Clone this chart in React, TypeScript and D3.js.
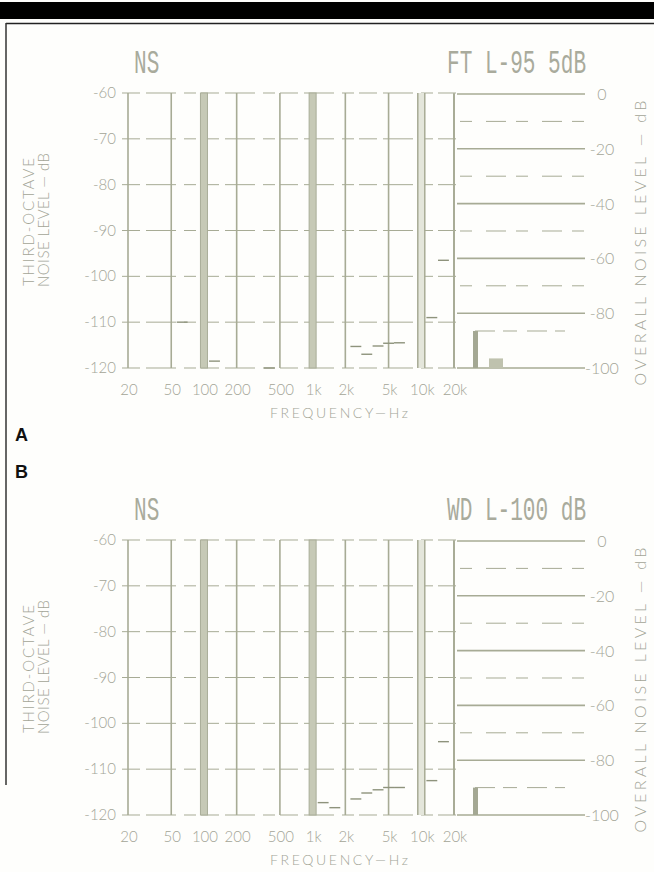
import React from "react";
import * as d3 from "d3";

// decade grid of the third-octave display
const decadeFreqs = [20, 50, 100, 200, 500, 1000, 2000, 5000, 10000, 20000];
const decadeLabels = ["20", "50", "100", "200", "500", "1k", "2k", "5k", "10k", "20k"];
const heavyFreqs = [100, 1000];
const doubleFreqs = [10000];
const leftTicks = [-60, -70, -80, -90, -100, -110, -120];
const rightMajor = [0, -20, -40, -60, -80, -100];
const rightMinor = [-10, -30, -50, -70];

// panel A: third-octave band levels that rise off the floor
const bandsA = [63, 125, 400, 2500, 3150, 4000, 5000, 6300, 12500, 16000];
const levelsA = [-110, -118.5, -120, -115.3, -117, -115.2, -114.6, -114.5, -109, -96.5];
const overallA = -86.5;
const secondaryA = -96.5;

// panel B
const bandsB = [1250, 1600, 2500, 3150, 4000, 5000, 6300, 12500, 16000];
const levelsB = [-117.3, -118.4, -116.5, -115.2, -114.5, -114, -114, -112.5, -104];
const overallB = -90;

const panels = [
  { id: "A", top: 0, left: "NS", right: "FT L-95 5dB", bands: bandsA, levels: levelsA, overall: overallA, secondary: secondaryA },
  { id: "B", top: 447, left: "NS", right: "WD L-100 dB", bands: bandsB, levels: levelsB, overall: overallB, secondary: null as number | null },
];

const GRID = "#a7ab95";
const TEXT = "#a3a597";
const BAR = "#c6c9b6";
const DATA = "#8e937c";
const labelFont = "Lato, 'Open Sans', sans-serif";
const lcdFont = "'Liberation Mono', 'DejaVu Sans Mono', monospace";

const x = d3.scaleLog().domain([20, 20000]).range([128, 454]);

function Panel({ p }: { p: (typeof panels)[number] }) {
  const yL = d3.scaleLinear().domain([-120, -60]).range([368, 93]);
  const yR = d3.scaleLinear().domain([-100, 0]).range([368, 94]);
  const third = Math.pow(2, 1 / 6);
  return (
    <g transform={`translate(0,${p.top})`}>
      <text transform="translate(134,73) scale(0.62,1)" fontFamily={lcdFont} fontSize={34} fill="#a9ab9c">
        {p.left}
      </text>
      <text transform="translate(447,73) scale(0.62,1)" fontFamily={lcdFont} fontSize={34} fill="#a9ab9c">
        {p.right}
      </text>

      {/* horizontal dashed grid of the band display */}
      {leftTicks.map((t) => (
        <line key={t} x1={122} x2={458} y1={yL(t)} y2={yL(t)} stroke={GRID} strokeWidth={1} strokeDasharray="18 6 30 8 12 5" />
      ))}
      {leftTicks.map((t) => (
        <text key={"l" + t} x={116} y={yL(t) + 5} textAnchor="end" fontFamily={labelFont} fontWeight={300} fontSize={15} fill={TEXT}>
          {t}
        </text>
      ))}

      {/* vertical frequency lines */}
      {decadeFreqs.map((f) => (
        <line key={f} x1={x(f)} x2={x(f)} y1={yL(-60)} y2={yL(-120)} stroke={GRID} strokeWidth={1.6} />
      ))}
      {heavyFreqs.map((f) => (
        <rect key={"h" + f} x={x(f) - 3.5} y={yL(-60)} width={7} height={yL(-120) - yL(-60)} fill={BAR} stroke="#a9ad98" strokeWidth={1} />
      ))}
      {doubleFreqs.map((f) => (
        <g key={"d" + f}>
          <rect x={x(f) - 3.5} y={yL(-60)} width={7} height={yL(-120) - yL(-60)} fill="#e4e6db" />
          <line x1={x(f) - 3.5} x2={x(f) - 3.5} y1={yL(-60)} y2={yL(-120)} stroke={GRID} strokeWidth={1.5} />
          <line x1={x(f) + 3.5} x2={x(f) + 3.5} y1={yL(-60)} y2={yL(-120)} stroke={GRID} strokeWidth={1.5} />
        </g>
      ))}

      {/* third-octave band levels */}
      {p.bands.map((f, i) => (
        <line key={"b" + f} x1={x(f / third)} x2={x(f * third)} y1={yL(p.levels[i])} y2={yL(p.levels[i])} stroke={DATA} strokeWidth={1.4} />
      ))}

      {decadeFreqs.map((f, i) => (
        <text key={"x" + f} x={x(f) + 1} y={395} textAnchor="middle" fontFamily={labelFont} fontWeight={300} fontSize={15} fill={TEXT}>
          {decadeLabels[i]}
        </text>
      ))}
      <text x={339} y={418} textAnchor="middle" fontFamily={labelFont} fontWeight={300} fontSize={14} fill={TEXT} textLength={138}>
        FREQUENCY—Hz
      </text>
      <text transform={`translate(34,222) rotate(-90)`} textAnchor="middle" fontFamily={labelFont} fontWeight={300} fontSize={15} fill={TEXT} textLength={128}>
        THIRD-OCTAVE
      </text>
      <text transform={`translate(49,220) rotate(-90)`} textAnchor="middle" fontFamily={labelFont} fontWeight={300} fontSize={15} fill={TEXT} textLength={134}>
        NOISE LEVEL — dB
      </text>

      {/* overall level meter */}
      <line x1={454} x2={454} y1={yR(0)} y2={yR(-100)} stroke={GRID} strokeWidth={1.8} />
      {rightMajor.map((t) => (
        <line key={"M" + t} x1={457} x2={585} y1={yR(t)} y2={yR(t)} stroke={GRID} strokeWidth={1.6} />
      ))}
      {rightMinor.map((t) => (
        <line key={"m" + t} x1={460} x2={585} y1={yR(t)} y2={yR(t)} stroke={GRID} strokeWidth={1} strokeDasharray="12 14 20 10" />
      ))}
      <rect x={473} y={yR(p.overall)} width={5} height={yR(-100) - yR(p.overall)} fill="#a4a893" />
      <line x1={475} x2={565} y1={yR(p.overall)} y2={yR(p.overall)} stroke={GRID} strokeWidth={1} strokeDasharray="20 8 14 10" />
      {p.secondary !== null && (
        <rect x={489} y={yR(p.secondary)} width={14} height={yR(-100) - yR(p.secondary)} fill="#bfc2ae" />
      )}
      {rightMajor.map((t) => (
        <text key={"r" + t} x={602} y={yR(t) + 6} textAnchor="middle" fontFamily={labelFont} fontWeight={300} fontSize={16} fill={TEXT}>
          {t}
        </text>
      ))}
      <text transform={`translate(646,243) rotate(-90)`} textAnchor="middle" fontFamily={labelFont} fontWeight={300} fontSize={16} fill={TEXT} textLength={285}>
        OVERALL NOISE LEVEL — dB
      </text>
    </g>
  );
}

export default function App() {
  return (
    <div style={{ position: "absolute", left: 0, top: 0 }}>
      <svg width={654} height={872} style={{ display: "block", background: "#fefefc" }}>
        <rect x={0} y={2} width={654} height={17} fill="#000" />
        <line x1={6} x2={654} y1={23.5} y2={23.5} stroke="#222" strokeWidth={1.5} />
        <line x1={6} x2={6} y1={23} y2={785} stroke="#333" strokeWidth={1.5} />
        {panels.map((p) => (
          <Panel key={p.id} p={p} />
        ))}
        <text x={15} y={441} fontFamily="'Liberation Sans', Arial, sans-serif" fontWeight={700} fontSize={18} fill="#111">
          A
        </text>
        <text x={15} y={478} fontFamily="'Liberation Sans', Arial, sans-serif" fontWeight={700} fontSize={18} fill="#111">
          B
        </text>
      </svg>
    </div>
  );
}
